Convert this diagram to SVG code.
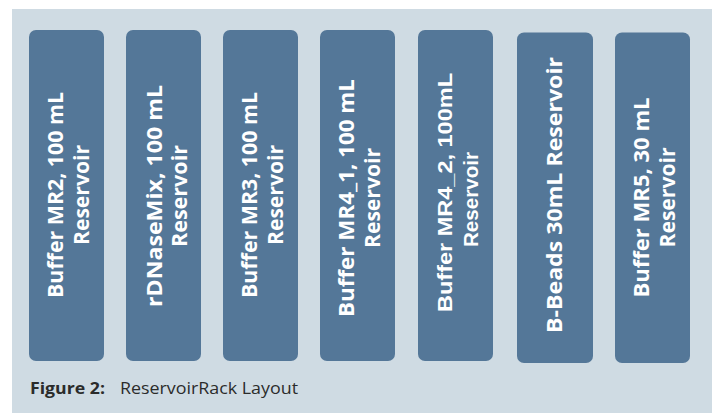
<svg xmlns="http://www.w3.org/2000/svg" width="712" height="413" viewBox="0 0 712 413">
  <style>
    .panel { fill: #cfdbe3; }
    .rsv { fill: #547798; }
    .lbl { fill: #ffffff; font-family: "Open Sans", "Noto Sans", "DejaVu Sans", sans-serif; font-weight: 700; font-size: 21.5px; text-anchor: middle; }
    .lbl-arial { fill: #ffffff; font-family: "Liberation Sans", Arial, sans-serif; font-weight: 700; font-size: 21px; text-anchor: middle; }
    .cap { fill: #2b2b2b; font-family: "Open Sans", "Noto Sans", sans-serif; font-size: 16px; }
  </style>
  <rect class="panel" x="12" y="9" width="700" height="404"/>

  <g id="rack">
    <g id="res-mr2">
      <rect class="rsv" x="29" y="30" width="75" height="331" rx="7"/>
      <text class="lbl" transform="translate(62.5,195) rotate(-90)" textLength="206" lengthAdjust="spacingAndGlyphs">Buffer MR2, 100 mL</text>
      <text class="lbl" transform="translate(89,195) rotate(-90)" textLength="100" lengthAdjust="spacingAndGlyphs">Reservoir</text>
    </g>
    <g id="res-rdnase">
      <rect class="rsv" x="126" y="30" width="75" height="331" rx="7"/>
      <text class="lbl" transform="translate(161.5,196) rotate(-90)" textLength="222" lengthAdjust="spacingAndGlyphs">rDNaseMix, 100 mL</text>
      <text class="lbl" transform="translate(187,196) rotate(-90)" textLength="102" lengthAdjust="spacingAndGlyphs">Reservoir</text>
    </g>
    <g id="res-mr3">
      <rect class="rsv" x="223" y="30" width="75" height="331" rx="7"/>
      <text class="lbl" transform="translate(256.5,195) rotate(-90)" textLength="206" lengthAdjust="spacingAndGlyphs">Buffer MR3, 100 mL</text>
      <text class="lbl" transform="translate(283,195) rotate(-90)" textLength="100" lengthAdjust="spacingAndGlyphs">Reservoir</text>
    </g>
    <g id="res-mr4-1">
      <rect class="rsv" x="320" y="30" width="75" height="331" rx="7"/>
      <text class="lbl" transform="translate(353.5,198) rotate(-90)" textLength="238" lengthAdjust="spacingAndGlyphs">Buffer MR4_1, 100 mL</text>
      <text class="lbl" transform="translate(380,198) rotate(-90)" textLength="100" lengthAdjust="spacingAndGlyphs">Reservoir</text>
    </g>
    <g id="res-mr4-2">
      <rect class="rsv" x="418" y="30" width="75" height="331" rx="7"/>
      <text class="lbl-arial" transform="translate(452,192.5) rotate(-90)" textLength="239" lengthAdjust="spacingAndGlyphs">Buffer MR4_2, 100mL</text>
      <text class="lbl-arial" transform="translate(478,199.5) rotate(-90)" textLength="95" lengthAdjust="spacingAndGlyphs">Reservoir</text>
    </g>
    <g id="res-bbeads">
      <rect class="rsv" x="517" y="32.5" width="76" height="330.5" rx="7"/>
      <text class="lbl" transform="translate(562,195) rotate(-90)" textLength="276" lengthAdjust="spacingAndGlyphs">B-Beads 30mL Reservoir</text>
    </g>
    <g id="res-mr5">
      <rect class="rsv" x="615" y="32.5" width="75" height="330.5" rx="7"/>
      <text class="lbl" transform="translate(649,197.5) rotate(-90)" textLength="200" lengthAdjust="spacingAndGlyphs">Buffer MR5, 30 mL</text>
      <text class="lbl" transform="translate(675,197.5) rotate(-90)" textLength="100" lengthAdjust="spacingAndGlyphs">Reservoir</text>
    </g>
  </g>

  <g id="connectors"/>

  <text class="cap" x="30" y="393.5"><tspan font-weight="700" textLength="75" lengthAdjust="spacingAndGlyphs">Figure 2:</tspan><tspan x="120" textLength="178" lengthAdjust="spacingAndGlyphs">ReservoirRack Layout</tspan></text>
</svg>
